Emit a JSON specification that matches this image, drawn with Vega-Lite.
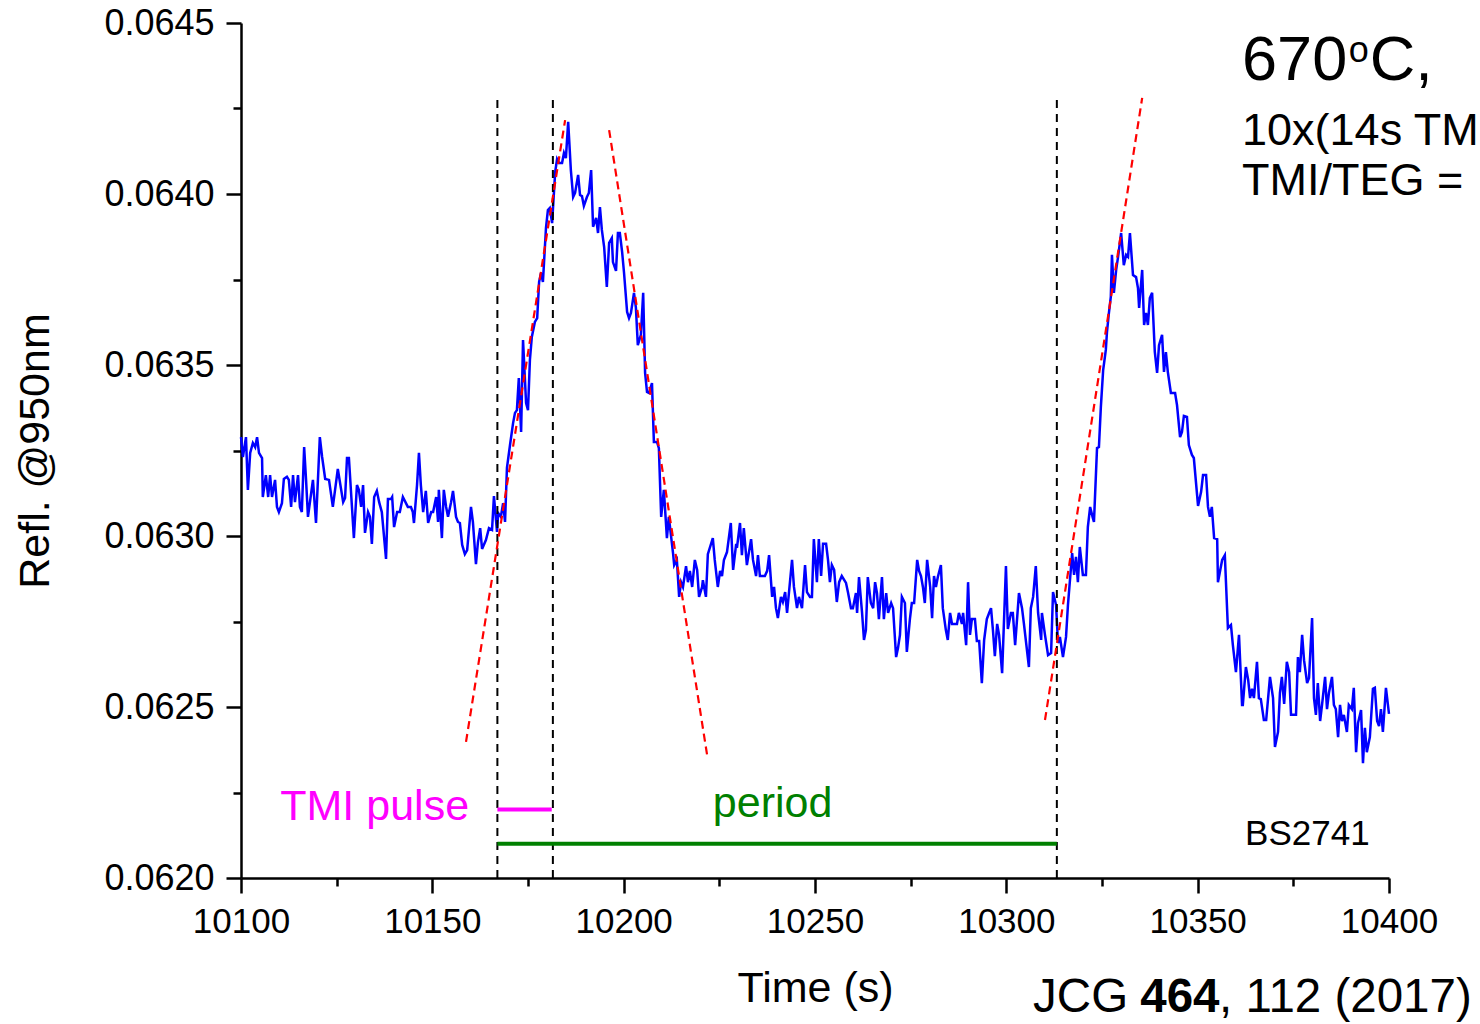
{
"$schema": "https://vega.github.io/schema/vega-lite/v6.json",
"width": 1148, "height": 855,
"autosize": {"type": "none"},
"padding": {"left": 241, "top": 23, "right": 91, "bottom": 146},
"background": "white",
"config": {
 "view": {"stroke": null},
 "font": "Liberation Sans",
 "axis": {"domainColor": "black", "domainWidth": 2.5, "tickColor": "black", "tickWidth": 2.5, "labelColor": "black", "labelFont": "Liberation Sans", "labelFontSize": 35, "titleFont": "Liberation Sans", "titleFontSize": 43, "titleFontWeight": "normal", "titleColor": "black", "grid": false, "labelOverlap": false, "labelFlush": false}
},
"resolve": {"axis": {"x": "independent", "y": "independent"}},
"layer": [
 {"data": {"values": [
{"t":10100.0,"r":0.063289},{"t":10100.5,"r":0.063231},{"t":10101.3,"r":0.063289},{"t":10101.8,"r":0.063135},{"t":10102.4,"r":0.063243},{"t":10103.1,"r":0.063272},{"t":10103.7,"r":0.06326},{"t":10104.2,"r":0.063289},{"t":10104.7,"r":0.063243},{"t":10105.5,"r":0.063228},{"t":10105.7,"r":0.063114},{"t":10106.5,"r":0.063178},{"t":10107.1,"r":0.063114},{"t":10107.6,"r":0.063178},{"t":10108.1,"r":0.063114},{"t":10108.9,"r":0.063164},{"t":10109.4,"r":0.063085},{"t":10109.9,"r":0.06307},{"t":10110.7,"r":0.063096},{"t":10111.2,"r":0.063167},{"t":10112.0,"r":0.063173},{"t":10112.5,"r":0.063164},{"t":10113.1,"r":0.063085},{"t":10113.6,"r":0.063178},{"t":10114.1,"r":0.063099},{"t":10114.9,"r":0.063178},{"t":10115.4,"r":0.063085},{"t":10115.9,"r":0.06307},{"t":10116.5,"r":0.06326},{"t":10117.0,"r":0.063164},{"t":10117.5,"r":0.063056},{"t":10118.8,"r":0.063164},{"t":10119.6,"r":0.063038},{"t":10120.6,"r":0.063289},{"t":10121.2,"r":0.063231},{"t":10122.0,"r":0.063167},{"t":10123.0,"r":0.063164},{"t":10124.0,"r":0.063085},{"t":10125.3,"r":0.063196},{"t":10126.7,"r":0.063099},{"t":10127.2,"r":0.063111},{"t":10127.7,"r":0.063228},{"t":10128.2,"r":0.063228},{"t":10129.5,"r":0.062994},{"t":10130.3,"r":0.063149},{"t":10130.8,"r":0.063135},{"t":10131.4,"r":0.063085},{"t":10131.9,"r":0.063149},{"t":10132.4,"r":0.063009},{"t":10133.2,"r":0.06307},{"t":10133.7,"r":0.063056},{"t":10134.2,"r":0.062977},{"t":10134.8,"r":0.063114},{"t":10135.5,"r":0.063132},{"t":10136.1,"r":0.063099},{"t":10136.8,"r":0.06307},{"t":10137.9,"r":0.062933},{"t":10138.4,"r":0.063108},{"t":10139.2,"r":0.063108},{"t":10139.5,"r":0.063114},{"t":10140.0,"r":0.063026},{"t":10140.8,"r":0.06307},{"t":10141.5,"r":0.06307},{"t":10142.3,"r":0.063114},{"t":10143.6,"r":0.063085},{"t":10144.4,"r":0.063085},{"t":10144.9,"r":0.06307},{"t":10145.2,"r":0.063038},{"t":10146.0,"r":0.063149},{"t":10146.5,"r":0.063243},{"t":10147.0,"r":0.063149},{"t":10147.6,"r":0.06307},{"t":10148.3,"r":0.063132},{"t":10148.9,"r":0.063038},{"t":10149.7,"r":0.06307},{"t":10150.2,"r":0.06307},{"t":10151.0,"r":0.063114},{"t":10151.5,"r":0.063041},{"t":10151.7,"r":0.063135},{"t":10152.5,"r":0.062994},{"t":10153.0,"r":0.063135},{"t":10153.6,"r":0.063085},{"t":10154.1,"r":0.063056},{"t":10154.9,"r":0.063099},{"t":10155.4,"r":0.063132},{"t":10156.2,"r":0.063056},{"t":10156.7,"r":0.063041},{"t":10157.2,"r":0.063038},{"t":10157.8,"r":0.062974},{"t":10158.5,"r":0.062947},{"t":10159.1,"r":0.062959},{"t":10160.1,"r":0.063085},{"t":10160.6,"r":0.063041},{"t":10161.4,"r":0.062918},{"t":10161.9,"r":0.06298},{"t":10162.5,"r":0.063023},{"t":10163.0,"r":0.062962},
{"t":10164.0,"r":0.062988},{"t":10164.8,"r":0.063023},{"t":10165.6,"r":0.063018},{"t":10166.1,"r":0.063117},{"t":10166.9,"r":0.063012},{"t":10167.2,"r":0.063067},{"t":10167.9,"r":0.063056},{"t":10168.5,"r":0.063096},{"t":10169.0,"r":0.063041},{"t":10169.5,"r":0.063199},{"t":10170.3,"r":0.063266},{"t":10171.1,"r":0.06333},{"t":10171.6,"r":0.06336},{"t":10172.1,"r":0.063368},{"t":10172.6,"r":0.063462},{"t":10173.2,"r":0.063304},{"t":10173.7,"r":0.063573},{"t":10174.5,"r":0.063389},{"t":10175.0,"r":0.063368},{"t":10175.5,"r":0.063515},{"t":10176.0,"r":0.063582},{"t":10176.8,"r":0.063626},{"t":10177.4,"r":0.063637},{"t":10177.9,"r":0.063743},{"t":10178.4,"r":0.063769},{"t":10178.9,"r":0.063743},{"t":10179.7,"r":0.063901},{"t":10180.2,"r":0.063953},{"t":10180.7,"r":0.063959},{"t":10181.3,"r":0.063915},{"t":10182.1,"r":0.064064},{"t":10182.6,"r":0.064102},{"t":10183.1,"r":0.064091},{"t":10183.9,"r":0.064091},{"t":10184.4,"r":0.06412},{"t":10184.9,"r":0.064105},{"t":10185.5,"r":0.064211},{"t":10186.2,"r":0.06407},{"t":10186.8,"r":0.063991},{"t":10187.3,"r":0.064003},{"t":10188.1,"r":0.064056},{"t":10188.6,"r":0.063997},{"t":10189.1,"r":0.063994},{"t":10189.6,"r":0.063965},{"t":10190.4,"r":0.063991},{"t":10190.9,"r":0.064003},{"t":10191.5,"r":0.06407},{"t":10192.0,"r":0.063904},{"t":10192.8,"r":0.06393},{"t":10193.3,"r":0.063886},{"t":10193.8,"r":0.063962},{"t":10194.3,"r":0.063895},{"t":10194.9,"r":0.063845},{"t":10195.6,"r":0.063728},{"t":10196.2,"r":0.063857},{"t":10196.9,"r":0.063871},{"t":10197.2,"r":0.063801},{"t":10198.0,"r":0.063775},{"t":10198.5,"r":0.063886},{"t":10199.0,"r":0.063886},{"t":10199.6,"r":0.06383},{"t":10200.1,"r":0.063769},{"t":10200.9,"r":0.063655},{"t":10201.4,"r":0.063637},{"t":10201.9,"r":0.063652},{"t":10202.7,"r":0.063711},{"t":10203.2,"r":0.063667},{"t":10203.7,"r":0.063558},{"t":10204.5,"r":0.063588},{"t":10205.1,"r":0.063711},{"t":10205.6,"r":0.063477},{"t":10206.1,"r":0.063421},{"t":10206.6,"r":0.063418},{"t":10207.4,"r":0.063447},{"t":10207.9,"r":0.063275},{"t":10208.7,"r":0.063275},{"t":10209.2,"r":0.063257},
{"t":10209.8,"r":0.063056},{"t":10210.5,"r":0.063135},{"t":10211.3,"r":0.062994},{"t":10211.8,"r":0.063056},{"t":10212.9,"r":0.06295},{"t":10213.2,"r":0.062915},{"t":10213.9,"r":0.06293},{"t":10214.5,"r":0.062822},{"t":10215.0,"r":0.062865},{"t":10215.5,"r":0.062851},{"t":10216.3,"r":0.062912},{"t":10216.8,"r":0.062865},{"t":10217.3,"r":0.062898},{"t":10217.9,"r":0.062851},{"t":10218.6,"r":0.06293},{"t":10219.2,"r":0.062901},{"t":10219.7,"r":0.062822},{"t":10220.5,"r":0.062851},{"t":10220.7,"r":0.062871},{"t":10221.5,"r":0.062822},{"t":10222.0,"r":0.062947},{"t":10223.3,"r":0.062994},{"t":10223.8,"r":0.06293},{"t":10224.6,"r":0.062851},{"t":10225.2,"r":0.062898},{"t":10225.7,"r":0.062883},{"t":10226.2,"r":0.06293},{"t":10227.0,"r":0.062953},{"t":10228.0,"r":0.063038},{"t":10228.6,"r":0.062901},{"t":10229.4,"r":0.062977},{"t":10229.6,"r":0.062965},{"t":10230.4,"r":0.063038},{"t":10230.9,"r":0.062944},{"t":10231.4,"r":0.063023},{"t":10232.2,"r":0.062915},{"t":10233.3,"r":0.062991},{"t":10233.8,"r":0.06293},{"t":10234.6,"r":0.062883},{"t":10235.1,"r":0.062944},{"t":10235.6,"r":0.062883},{"t":10236.9,"r":0.062883},{"t":10237.5,"r":0.062898},{"t":10238.0,"r":0.062944},{"t":10238.8,"r":0.062822},{"t":10239.3,"r":0.062851},{"t":10239.8,"r":0.062789},{"t":10240.3,"r":0.06276},{"t":10241.1,"r":0.062822},{"t":10241.6,"r":0.062807},{"t":10242.2,"r":0.062836},{"t":10242.7,"r":0.062775},{"t":10244.0,"r":0.06293},{"t":10244.5,"r":0.062851},{"t":10245.3,"r":0.062789},{"t":10245.8,"r":0.062822},{"t":10246.6,"r":0.062789},{"t":10247.4,"r":0.062915},{"t":10247.9,"r":0.062836},{"t":10248.7,"r":0.062822},{"t":10249.2,"r":0.062822},{"t":10249.7,"r":0.062991},{"t":10250.5,"r":0.062865},{"t":10251.0,"r":0.062991},{"t":10251.6,"r":0.062883},{"t":10252.1,"r":0.062977},{"t":10252.9,"r":0.062977},{"t":10253.4,"r":0.06293},{"t":10253.9,"r":0.062865},{"t":10254.4,"r":0.062915},{"t":10255.0,"r":0.062901},{"t":10255.7,"r":0.062807},{"t":10256.3,"r":0.062865},{"t":10257.0,"r":0.062883},{"t":10258.1,"r":0.062863},{"t":10258.6,"r":0.062836},{"t":10259.4,"r":0.062789},{"t":10259.9,"r":0.062789},{"t":10260.7,"r":0.062833},{"t":10261.0,"r":0.062775},{"t":10261.5,"r":0.06288},{"t":10262.3,"r":0.062775},{"t":10262.8,"r":0.062696},{"t":10263.3,"r":0.062725},{"t":10263.8,"r":0.06288},{"t":10264.6,"r":0.062804},{"t":10265.2,"r":0.062789},{"t":10265.7,"r":0.062865},{"t":10266.2,"r":0.062833},{"t":10266.7,"r":0.062757},{"t":10267.5,"r":0.06288},{"t":10268.0,"r":0.062757},{"t":10268.6,"r":0.062833},{"t":10269.1,"r":0.062775},{"t":10269.9,"r":0.062804},{"t":10270.4,"r":0.062789},{"t":10271.2,"r":0.062646},{"t":10271.7,"r":0.062673},{"t":10272.2,"r":0.062711},{"t":10272.7,"r":0.062822},{"t":10273.5,"r":0.062804},{"t":10274.0,"r":0.062661},{"t":10274.8,"r":0.062757},{"t":10275.3,"r":0.062804},{"t":10275.9,"r":0.062804},{"t":10276.7,"r":0.06293},{"t":10277.2,"r":0.062898},{"t":10277.7,"r":0.062883},{"t":10278.2,"r":0.062851},{"t":10278.7,"r":0.062804},{"t":10279.3,"r":0.06293},{"t":10280.1,"r":0.062851},{"t":10280.6,"r":0.06276},{"t":10281.1,"r":0.062883},{"t":10281.6,"r":0.062851},{"t":10282.1,"r":0.06288},{"t":10282.9,"r":0.062915},{"t":10283.4,"r":0.062789},{"t":10284.2,"r":0.062725},{"t":10284.7,"r":0.062696},{"t":10285.3,"r":0.062775},{"t":10285.8,"r":0.062743},{"t":10286.6,"r":0.062743},{"t":10287.1,"r":0.062743},{"t":10287.6,"r":0.062775},{"t":10288.4,"r":0.062743},{"t":10288.7,"r":0.062775},{"t":10289.5,"r":0.062681},{"t":10290.0,"r":0.062865},{"t":10290.5,"r":0.062711},{"t":10291.0,"r":0.062757},{"t":10291.8,"r":0.062757},{"t":10292.3,"r":0.062693},{"t":10292.9,"r":0.062693},{"t":10293.6,"r":0.06257},{"t":10294.2,"r":0.062696},{"t":10294.9,"r":0.062757},{"t":10295.5,"r":0.062775},{"t":10296.0,"r":0.062789},{"t":10296.5,"r":0.062725},{"t":10297.0,"r":0.062649},{"t":10297.6,"r":0.062743},{"t":10298.1,"r":0.062711},{"t":10298.9,"r":0.062599},{"t":10299.9,"r":0.062912},{"t":10300.4,"r":0.062728},{"t":10301.2,"r":0.062775},{"t":10301.7,"r":0.062775},{"t":10302.3,"r":0.062681},{"t":10303.3,"r":0.062833},{"t":10304.1,"r":0.062789},{"t":10304.6,"r":0.062743},{"t":10305.9,"r":0.062617},{"t":10306.4,"r":0.062789},{"t":10307.0,"r":0.062822},{"t":10307.7,"r":0.062912},{"t":10308.3,"r":0.062775},{"t":10309.1,"r":0.062696},{"t":10309.3,"r":0.062775},{"t":10310.1,"r":0.062711},
{"t":10310.9,"r":0.062652},{"t":10311.7,"r":0.062658},{"t":10312.2,"r":0.062836},{"t":10313.0,"r":0.062798},{"t":10313.5,"r":0.062687},{"t":10314.0,"r":0.062705},{"t":10314.8,"r":0.062646},{"t":10315.6,"r":0.062705},{"t":10316.1,"r":0.062798},{"t":10317.2,"r":0.06295},{"t":10317.7,"r":0.062886},{"t":10318.2,"r":0.062939},{"t":10318.7,"r":0.062865},{"t":10319.2,"r":0.062968},
{"t":10320.0,"r":0.062886},{"t":10320.8,"r":0.062886},{"t":10321.3,"r":0.063026},{"t":10321.9,"r":0.063085},{"t":10322.6,"r":0.063053},{"t":10322.9,"r":0.063041},{"t":10323.7,"r":0.063257},{"t":10324.2,"r":0.06326},{"t":10324.7,"r":0.063377},{"t":10325.3,"r":0.063485},{"t":10326.0,"r":0.063544},{"t":10326.3,"r":0.063596},{"t":10326.8,"r":0.063652},{"t":10327.3,"r":0.063699},{"t":10327.6,"r":0.063822},{"t":10328.1,"r":0.063711},{"t":10328.7,"r":0.063778},{"t":10329.2,"r":0.063816},{"t":10330.0,"r":0.063886},{"t":10330.7,"r":0.063792},{"t":10331.3,"r":0.063822},{"t":10331.8,"r":0.063816},{"t":10332.3,"r":0.063886},{"t":10333.1,"r":0.063763},{"t":10333.9,"r":0.063757},{"t":10334.4,"r":0.063725},{"t":10334.7,"r":0.063667},{"t":10335.5,"r":0.063778},{"t":10336.0,"r":0.063617},{"t":10336.5,"r":0.063652},{"t":10337.0,"r":0.063617},{"t":10337.5,"r":0.063696},{"t":10338.1,"r":0.063711},{"t":10338.8,"r":0.063538},{"t":10339.4,"r":0.063477},{"t":10339.9,"r":0.063558},{"t":10340.7,"r":0.063588},{"t":10341.2,"r":0.06348},{"t":10341.7,"r":0.063538},{"t":10342.2,"r":0.06348},{"t":10343.0,"r":0.063418},{"t":10344.1,"r":0.063418},{"t":10344.6,"r":0.063383},{"t":10345.4,"r":0.063289},{"t":10345.9,"r":0.063304},{"t":10346.4,"r":0.063351},{"t":10347.2,"r":0.063348},{"t":10347.7,"r":0.063266},{"t":10348.5,"r":0.063237},{"t":10349.0,"r":0.063228},{"t":10350.1,"r":0.063088},{"t":10350.9,"r":0.063129},{"t":10351.4,"r":0.063178},{"t":10352.2,"r":0.063178},{"t":10352.7,"r":0.063085},{"t":10353.2,"r":0.063056},{"t":10353.7,"r":0.063085},{"t":10354.3,"r":0.062994},{"t":10355.1,"r":0.062991},
{"t":10355.3,"r":0.062865},{"t":10356.4,"r":0.06293},{"t":10357.1,"r":0.062944},{"t":10357.9,"r":0.062731},{"t":10358.7,"r":0.06274},{"t":10359.2,"r":0.062681},{"t":10360.0,"r":0.062602},{"t":10360.8,"r":0.062711},{"t":10361.6,"r":0.062506},{"t":10361.8,"r":0.062506},{"t":10362.6,"r":0.062617},{"t":10363.2,"r":0.062579},{"t":10363.7,"r":0.062526},{"t":10364.2,"r":0.062553},{"t":10364.7,"r":0.062526},{"t":10365.5,"r":0.062632},{"t":10366.0,"r":0.062526},{"t":10366.5,"r":0.062523},{"t":10367.3,"r":0.062462},{"t":10367.9,"r":0.062462},{"t":10368.9,"r":0.062588},{"t":10369.7,"r":0.062526},{"t":10370.2,"r":0.062383},{"t":10371.0,"r":0.062427},{"t":10371.5,"r":0.062541},{"t":10372.0,"r":0.062588},{"t":10372.6,"r":0.062509},{"t":10373.3,"r":0.062632},{"t":10373.9,"r":0.062602},{"t":10374.4,"r":0.062477},{"t":10375.7,"r":0.062477},{"t":10376.2,"r":0.062646},{"t":10376.7,"r":0.062602},{"t":10377.3,"r":0.062711},{"t":10377.8,"r":0.062637},{"t":10378.6,"r":0.06257},{"t":10379.1,"r":0.062585},{"t":10379.9,"r":0.06276},{"t":10380.4,"r":0.062526},{"t":10380.9,"r":0.062477},{"t":10381.4,"r":0.06257},{"t":10382.0,"r":0.062459},{"t":10382.5,"r":0.062506},{"t":10383.3,"r":0.062588},{"t":10383.8,"r":0.062494},{"t":10384.3,"r":0.062541},{"t":10385.1,"r":0.062588},{"t":10385.6,"r":0.062506},{"t":10386.1,"r":0.062494},{"t":10386.7,"r":0.062412},{"t":10387.2,"r":0.062506},{"t":10387.7,"r":0.062459},{"t":10388.2,"r":0.062477},{"t":10389.0,"r":0.062427},{"t":10389.5,"r":0.062506},{"t":10390.3,"r":0.062494},{"t":10390.8,"r":0.062556},{"t":10391.4,"r":0.062368},{"t":10391.9,"r":0.062453},{"t":10392.7,"r":0.062491},{"t":10393.2,"r":0.062336},{"t":10393.7,"r":0.062439},{"t":10394.2,"r":0.062368},{"t":10395.0,"r":0.062412},{"t":10395.8,"r":0.062553},{"t":10396.3,"r":0.062556},{"t":10396.9,"r":0.062459},{"t":10397.4,"r":0.062444},{"t":10397.9,"r":0.062494},{"t":10398.4,"r":0.062427},{"t":10399.2,"r":0.062556},{"t":10400.0,"r":0.06248}
 ]},
  "mark": {"type": "line", "color": "#0000ff", "strokeWidth": 2.5},
  "encoding": {
   "x": {"field": "t", "type": "quantitative", "scale": {"domain": [10100, 10400], "nice": false, "zero": false},
    "axis": {"title": "Time (s)", "orient": "bottom", "values": [10100,10150,10200,10250,10300,10350,10400], "format": "d", "tickSize": 15,
     "labelPadding": 11, "titlePadding": 28}},
   "y": {"field": "r", "type": "quantitative", "scale": {"domain": [0.062, 0.0645], "nice": false, "zero": false},
    "axis": {"title": "Refl. @950nm", "orient": "left", "values": [0.062,0.0625,0.063,0.0635,0.064,0.0645], "format": ".4f", "tickSize": 15,
     "labelPadding": 12, "labelFontSize": 36, "titlePadding": 46}}
  }},
 {"data": {"values": [{"t": 10167, "y1": 0.062, "y2": 0.064275}, {"t": 10181.5, "y1": 0.062, "y2": 0.064275}, {"t": 10313.2, "y1": 0.062, "y2": 0.064275}]},
  "mark": {"type": "rule", "color": "black", "strokeWidth": 2, "strokeDash": [8, 6]},
  "encoding": {"x": {"field": "t", "type": "quantitative", "axis": null}, "y": {"field": "y1", "type": "quantitative", "axis": null}, "y2": {"field": "y2"}}},
 {"data": {"values": [
   {"seg": "a", "t": 10158.8, "r": 0.062398}, {"seg": "a", "t": 10184.7, "r": 0.064216},
   {"seg": "b", "t": 10196.2, "r": 0.064187}, {"seg": "b", "t": 10221.8, "r": 0.06236},
   {"seg": "c", "t": 10310.1, "r": 0.062462}, {"seg": "c", "t": 10335.5, "r": 0.064281}]},
  "mark": {"type": "line", "color": "#ff0000", "strokeWidth": 2.2, "strokeDash": [8, 5]},
  "encoding": {
   "x": {"field": "t", "type": "quantitative", "axis": {"orient": "bottom", "values": [10125,10175,10225,10275,10325,10375], "tickSize": 8, "labels": false, "domain": false, "title": null}},
   "y": {"field": "r", "type": "quantitative", "axis": {"orient": "left", "values": [0.06225,0.06275,0.06325,0.06375,0.06425], "tickSize": 8, "labels": false, "domain": false, "title": null}},
   "detail": {"field": "seg"}}},
 {"data": {"values": [{"name": "TMI pulse", "t1": 10167, "t2": 10181.2, "r": 0.0622}, {"name": "period", "t1": 10167, "t2": 10313.2, "r": 0.0621}]},
  "mark": {"type": "rule", "strokeWidth": 4},
  "encoding": {"x": {"field": "t1", "type": "quantitative", "axis": null}, "x2": {"field": "t2"}, "y": {"field": "r", "type": "quantitative", "axis": null},
   "color": {"field": "name", "type": "nominal", "scale": {"domain": ["TMI pulse", "period"], "range": ["#ff00ff", "#008000"]}, "legend": null}}},
 {"data": {"values": [{"label": "TMI pulse", "t": 10159.6, "r": 0.06217}]},
  "mark": {"type": "text", "align": "right", "baseline": "alphabetic", "fontSize": 43, "font": "Liberation Sans", "color": "#ff00ff"},
  "encoding": {"x": {"field": "t", "type": "quantitative", "axis": null}, "y": {"field": "r", "type": "quantitative", "axis": null}, "text": {"field": "label"}}},
 {"data": {"values": [{"label": "period", "t": 10223.3, "r": 0.062178}]},
  "mark": {"type": "text", "align": "left", "baseline": "alphabetic", "fontSize": 43, "font": "Liberation Sans", "color": "#008000"},
  "encoding": {"x": {"field": "t", "type": "quantitative", "axis": null}, "y": {"field": "r", "type": "quantitative", "axis": null}, "text": {"field": "label"}}},
 {"data": {"values": [{"label": "BS2741", "t": 10362.4, "r": 0.062096}]},
  "mark": {"type": "text", "align": "left", "baseline": "alphabetic", "fontSize": 35, "font": "Liberation Sans", "color": "black"},
  "encoding": {"x": {"field": "t", "type": "quantitative", "axis": null}, "y": {"field": "r", "type": "quantitative", "axis": null}, "text": {"field": "label"}}},
 {"data": {"values": [{"label": "670", "t": 10361.6, "r": 0.064333}, {"label": "C,", "t": 10395.0, "r": 0.064333}]},
  "mark": {"type": "text", "align": "left", "baseline": "alphabetic", "fontSize": 63, "font": "Liberation Sans", "color": "black"},
  "encoding": {"x": {"field": "t", "type": "quantitative", "axis": null}, "y": {"field": "r", "type": "quantitative", "axis": null}, "text": {"field": "label"}}},
 {"data": {"values": [{"label": "o", "t": 10389.5, "r": 0.064386}]},
  "mark": {"type": "text", "align": "left", "baseline": "alphabetic", "fontSize": 36, "font": "Liberation Sans", "color": "black"},
  "encoding": {"x": {"field": "t", "type": "quantitative", "axis": null}, "y": {"field": "r", "type": "quantitative", "axis": null}, "text": {"field": "label"}}},
 {"data": {"values": [{"label": "10x(14s TMI", "t": 10361.6, "r": 0.064143}, {"label": "TMI/TEG =", "t": 10361.6, "r": 0.063997}]},
  "mark": {"type": "text", "align": "left", "baseline": "alphabetic", "fontSize": 45, "font": "Liberation Sans", "color": "black"},
  "encoding": {"x": {"field": "t", "type": "quantitative", "axis": null}, "y": {"field": "r", "type": "quantitative", "axis": null}, "text": {"field": "label"}}},
 {"data": {"values": [{"label": "JCG", "t": 10307.0, "r": 0.061608}, {"label": ", 112 (2017)", "t": 10355.6, "r": 0.061608}]},
  "mark": {"type": "text", "align": "left", "baseline": "alphabetic", "fontSize": 47.5, "font": "Liberation Sans", "color": "black"},
  "encoding": {"x": {"field": "t", "type": "quantitative", "axis": null}, "y": {"field": "r", "type": "quantitative", "axis": null}, "text": {"field": "label"}}},
 {"data": {"values": [{"label": "464", "t": 10335.0, "r": 0.061608}]},
  "mark": {"type": "text", "align": "left", "baseline": "alphabetic", "fontSize": 47.5, "fontWeight": "bold", "font": "Liberation Sans", "color": "black"},
  "encoding": {"x": {"field": "t", "type": "quantitative", "axis": null}, "y": {"field": "r", "type": "quantitative", "axis": null}, "text": {"field": "label"}}}
]
}
